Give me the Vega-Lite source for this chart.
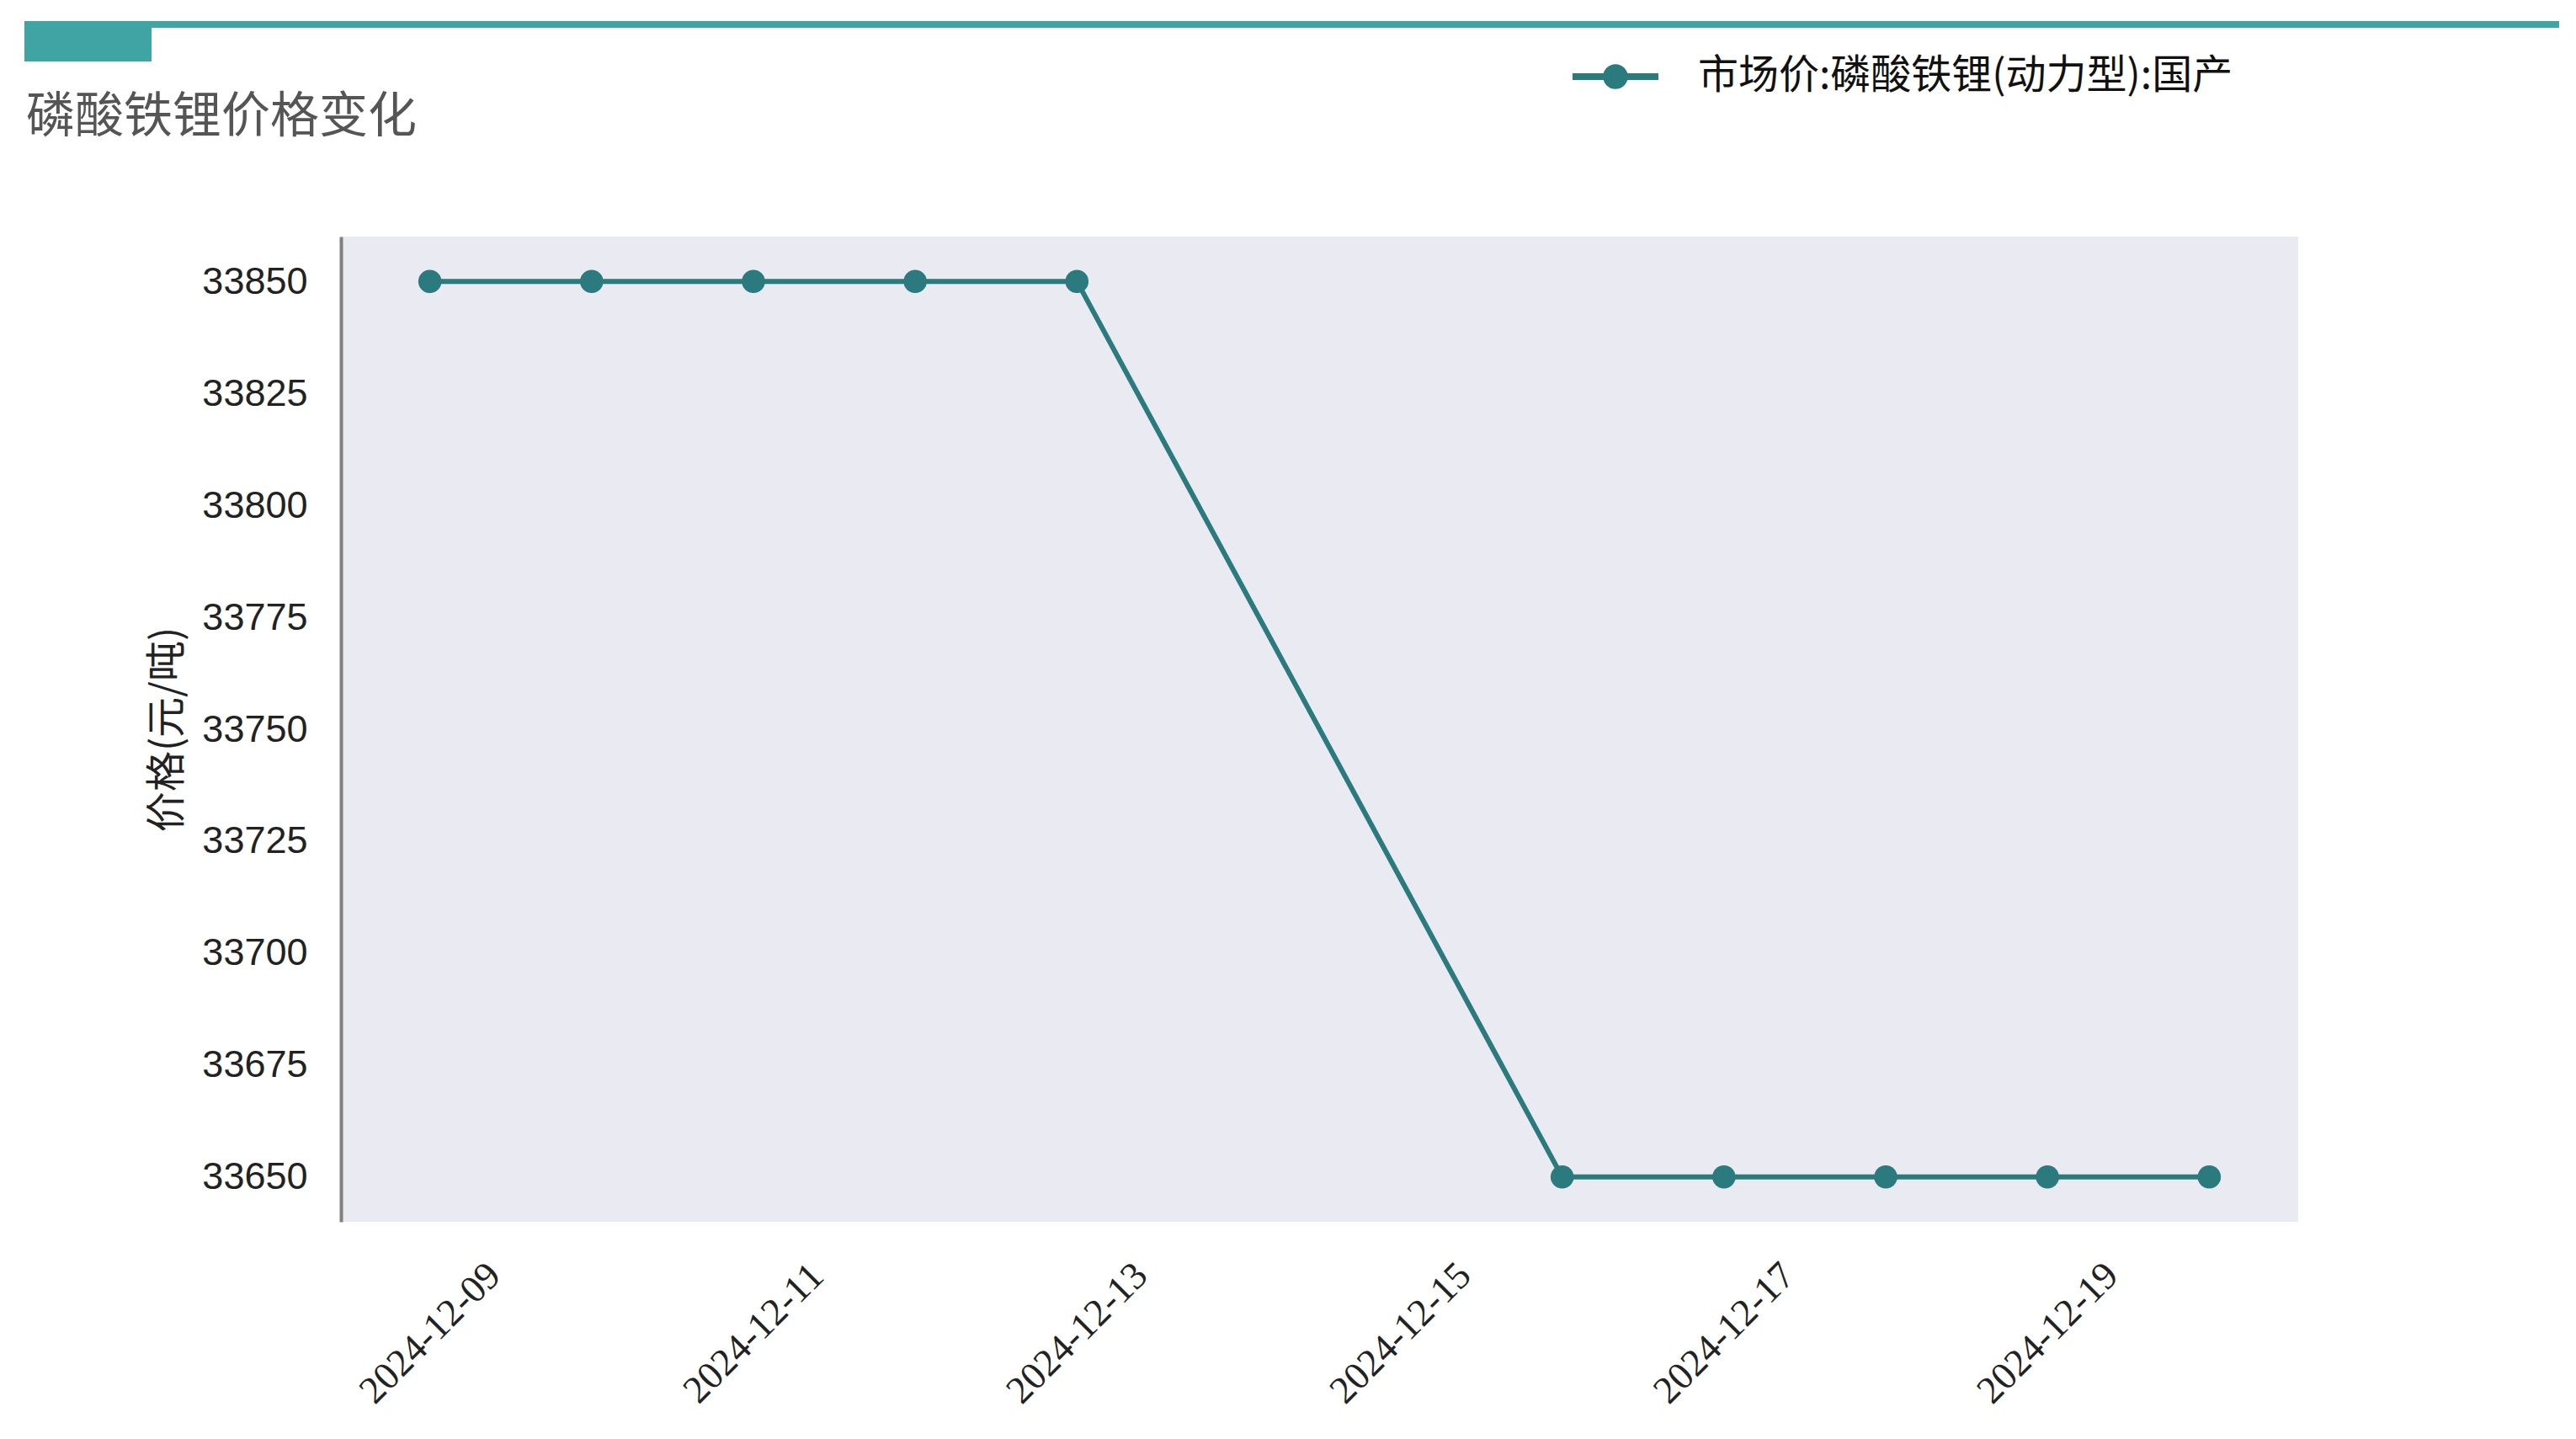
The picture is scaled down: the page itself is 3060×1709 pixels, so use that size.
{
  "$schema": "https://vega.github.io/schema/vega-lite/v6.json",
  "background": "white",
  "padding": {"left": 29, "top": 25, "right": 10, "bottom": 10},
  "bounds": "flush",
  "spacing": 256,
  "config": {"view": {"stroke": null}, "font": "Noto Sans CJK SC"},
  "vconcat": [
    {
      "vconcat": [
        {"width": 3011, "height": 8, "view": {"fill": "#40a4a4", "stroke": null}, "data": {"values": []}, "mark": "rect", "encoding": {}},
        {"width": 151, "height": 40, "view": {"fill": "#40a4a4", "stroke": null}, "data": {"values": []}, "mark": "rect", "encoding": {}}
      ],
      "spacing": 0,
      "bounds": "flush"
    },
    {
      "hconcat": [
        {"width": 1, "height": 1, "data": {"values": []}, "mark": "rect", "encoding": {}},
        {
          "width": 2325,
          "height": 1170,
          "view": {"fill": "#EAEAF2", "stroke": null},
          "title": {
            "text": "磷酸铁锂价格变化",
            "anchor": "start",
            "frame": "group",
            "dx": -374,
            "offset": 112,
            "font": "Noto Sans CJK SC",
            "fontSize": 58,
            "fontWeight": "normal",
            "color": "#555555"
          },
          "data": {
            "values": [
              {"date": "2024-12-09T00:00:00", "price": 33850, "series": "市场价:磷酸铁锂(动力型):国产"},
              {"date": "2024-12-10T00:00:00", "price": 33850, "series": "市场价:磷酸铁锂(动力型):国产"},
              {"date": "2024-12-11T00:00:00", "price": 33850, "series": "市场价:磷酸铁锂(动力型):国产"},
              {"date": "2024-12-12T00:00:00", "price": 33850, "series": "市场价:磷酸铁锂(动力型):国产"},
              {"date": "2024-12-13T00:00:00", "price": 33850, "series": "市场价:磷酸铁锂(动力型):国产"},
              {"date": "2024-12-16T00:00:00", "price": 33650, "series": "市场价:磷酸铁锂(动力型):国产"},
              {"date": "2024-12-17T00:00:00", "price": 33650, "series": "市场价:磷酸铁锂(动力型):国产"},
              {"date": "2024-12-18T00:00:00", "price": 33650, "series": "市场价:磷酸铁锂(动力型):国产"},
              {"date": "2024-12-19T00:00:00", "price": 33650, "series": "市场价:磷酸铁锂(动力型):国产"},
              {"date": "2024-12-20T00:00:00", "price": 33650, "series": "市场价:磷酸铁锂(动力型):国产"}
            ]
          },
          "encoding": {
            "x": {
              "field": "date",
              "type": "temporal",
              "scale": {"domain": ["2024-12-08T10:48:00", "2024-12-20T13:12:00"], "nice": false},
              "axis": {
                "title": null,
                "values": [
                  {"year": 2024, "month": 12, "date": 9},
                  {"year": 2024, "month": 12, "date": 11},
                  {"year": 2024, "month": 12, "date": 13},
                  {"year": 2024, "month": 12, "date": 15},
                  {"year": 2024, "month": 12, "date": 17},
                  {"year": 2024, "month": 12, "date": 19}
                ],
                "format": "%Y-%m-%d",
                "domain": false,
                "ticks": false,
                "grid": false,
                "labelAngle": -45,
                "labelAlign": "center",
                "labelBaseline": "middle",
                "labelPadding": 132,
                "labelFont": "Liberation Serif",
                "labelFontSize": 46,
                "labelColor": "#222222",
                "labelLimit": 0,
                "labelFlush": false,
                "labelOverlap": false
              }
            },
            "y": {
              "field": "price",
              "type": "quantitative",
              "scale": {"domain": [33640, 33860], "nice": false, "zero": false},
              "axis": {
                "title": "价格(元/吨)",
                "titleFont": "Noto Sans CJK SC",
                "titleFontSize": 48,
                "titleFontWeight": "normal",
                "titleColor": "#222222",
                "titlePadding": 16,
                "values": [33650, 33675, 33700, 33725, 33750, 33775, 33800, 33825, 33850],
                "format": "d",
                "domain": true,
                "domainColor": "#808080",
                "domainWidth": 4,
                "ticks": false,
                "grid": false,
                "labelPadding": 40,
                "labelFont": "Liberation Sans",
                "labelFontSize": 45,
                "labelColor": "#222222"
              }
            }
          },
          "layer": [
            {"mark": {"type": "line", "color": "#2b7a7e", "strokeWidth": 6}},
            {
              "mark": {"type": "point", "filled": true, "size": 760, "opacity": 1, "strokeWidth": 0},
              "encoding": {
                "color": {
                  "field": "series",
                  "type": "nominal",
                  "scale": {"range": ["#2b7a7e"]},
                  "legend": {
                    "title": null,
                    "orient": "none",
                    "legendX": 1839,
                    "legendY": 15,
                    "padding": 0,
                    "symbolType": "M-1,-0.08L1,-0.08L1,0.08L-1,0.08Z M0.29,0A0.29,0.29,0,1,1,-0.29,0A0.29,0.29,0,1,1,0.29,0Z",
                    "symbolSize": 10404,
                    "symbolOpacity": 1,
                    "symbolStrokeWidth": 0,
                    "labelOffset": 47,
                    "labelFont": "Noto Sans CJK SC",
                    "labelFontSize": 48,
                    "labelColor": "#111111",
                    "labelLimit": 1000
                  }
                }
              }
            }
          ]
        }
      ],
      "spacing": 375,
      "bounds": "flush"
    }
  ]
}
